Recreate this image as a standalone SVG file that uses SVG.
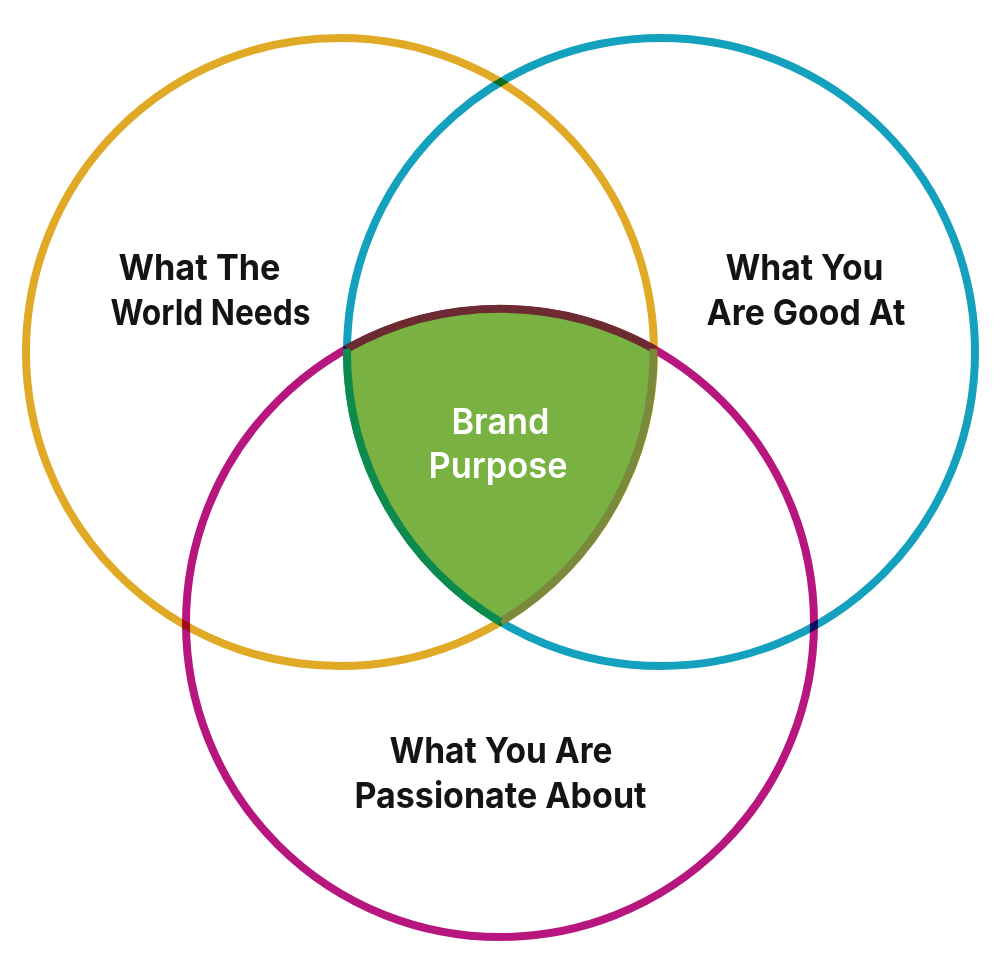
<svg xmlns="http://www.w3.org/2000/svg" width="1000" height="960" viewBox="0 0 1000 960">
  <style>
    .ring { fill: none; stroke-width: 8; mix-blend-mode: multiply; }
    .lbl { font-family: Inter, "Liberation Sans", Arial, sans-serif; font-weight: 700; font-size: 36px; fill: #141414; text-anchor: middle; }
    .core { font-family: Inter, "Liberation Sans", Arial, sans-serif; font-weight: 600; font-size: 36px; fill: #ffffff; text-anchor: middle; }
    .edge { fill: none; stroke-width: 8; }
  </style>
  <rect width="1000" height="960" fill="#ffffff"/>
  <g id="connectors"></g>
  <g id="world-needs">
    <circle class="ring" cx="340" cy="352" r="314" stroke="#E1AA26"/>
    <text class="lbl" x="199.5" y="280" textLength="162" lengthAdjust="spacingAndGlyphs">What The</text>
    <text class="lbl" x="210.5" y="325" textLength="200" lengthAdjust="spacingAndGlyphs">World Needs</text>
  </g>
  <g id="good-at">
    <circle class="ring" cx="661" cy="352" r="314" stroke="#14A1BD"/>
    <text class="lbl" x="804.5" y="280" textLength="158" lengthAdjust="spacingAndGlyphs">What You</text>
    <text class="lbl" x="806" y="325" textLength="199" lengthAdjust="spacingAndGlyphs">Are Good At</text>
  </g>
  <g id="passionate">
    <circle class="ring" cx="500" cy="623" r="314" stroke="#B8167F"/>
    <text class="lbl" x="501" y="763" textLength="223" lengthAdjust="spacingAndGlyphs">What You Are</text>
    <text class="lbl" x="500.5" y="808" textLength="292" lengthAdjust="spacingAndGlyphs">Passionate About</text>
  </g>
  <g id="brand-purpose">
    <path d="M347,348.8 A314,314 0 0,1 653.5,348.8 A314,314 0 0,1 500.5,621.9 A314,314 0 0,1 347,348.8 Z" fill="#79B242"/>
    <path class="edge" d="M347,348.8 A314,314 0 0,1 653.5,348.8" stroke="#6C2B31"/>
    <path class="edge" d="M653.5,348.8 A314,314 0 0,1 500.5,621.9" stroke="#7A8A3C"/>
    <path class="edge" d="M500.5,621.9 A314,314 0 0,1 347,348.8" stroke="#0D8B4C"/>
    <text class="core" x="500.5" y="434" textLength="98" lengthAdjust="spacingAndGlyphs">Brand</text>
    <text class="core" x="498" y="478" textLength="139" lengthAdjust="spacingAndGlyphs">Purpose</text>
  </g>
</svg>
